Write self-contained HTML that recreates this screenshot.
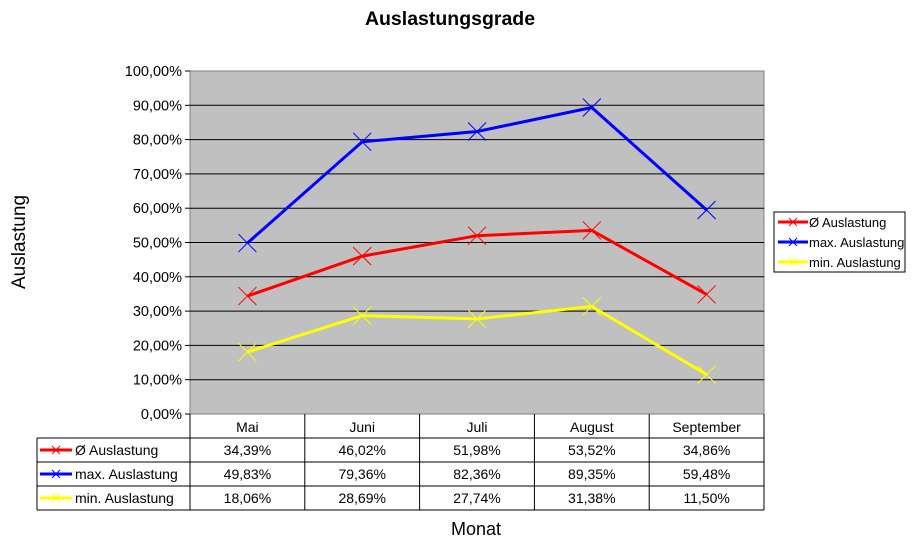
<!DOCTYPE html>
<html><head><meta charset="utf-8"><style>
body{margin:0;background:#fff;font-family:"Liberation Sans",Arial,sans-serif}
svg{display:block}
</style></head><body>
<svg width="912" height="550" viewBox="0 0 912 550" id="c">
<text x="450" y="25" text-anchor="middle" font-size="19.5" font-weight="bold">Auslastungsgrade</text>
<text x="25" y="242" text-anchor="middle" font-size="19" transform="rotate(-90 25 242)">Auslastung</text>
<text x="476" y="535" text-anchor="middle" font-size="18">Monat</text>
<rect x="190" y="71" width="574" height="343" fill="#c0c0c0" stroke="#808080"/>
<g id="grid"></g><g id="ticks"></g><g id="table"></g><g id="series"></g>
<g>
<rect x="774" y="212" width="131" height="60" fill="#fff" stroke="#000"/>
<g id="legend"></g>
</g>
</svg>
<script>
const categories=["Mai","Juni","Juli","August","September"];
const avgValues=[34.39,46.02,51.98,53.52,34.86];
const maxValues=[49.83,79.36,82.36,89.35,59.48];
const minValues=[18.06,28.69,27.74,31.38,11.50];
const yTicks=[0,10,20,30,40,50,60,70,80,90,100];
const seriesNames=["Ø Auslastung","max. Auslastung","min. Auslastung"];
const colors=["#ff0000","#0000ff","#ffff00"];
const NS="http://www.w3.org/2000/svg";
const X0=190,X1=764,Y0=414,Y1=71;
const bw=(X1-X0)/categories.length;
const xs=i=>X0+bw*(i+0.5);
const ys=v=>Y0-(v/100)*(Y0-Y1);
const fmt=v=>v.toFixed(2).replace('.',',')+'%';
function mk(t,a,p){const e=document.createElementNS(NS,t);for(const k in a)e.setAttribute(k,a[k]);p.appendChild(e);return e;}
const grid=document.getElementById('grid'),ticks=document.getElementById('ticks');
yTicks.forEach(v=>{
 const y=ys(v);
 if(v>0&&v<100){const l=mk('line',{x1:X0,x2:X1,y1:y,y2:y,stroke:'#000','stroke-width':1},grid);
 
 }
 mk('line',{x1:X0-5,x2:X0,y1:y,y2:y,stroke:'#000'},ticks);
 const t=mk('text',{x:X0-8,y:y+5,'text-anchor':'end','font-size':14.5},ticks);
 t.textContent=fmt(v);
 
 
});
const tb=document.getElementById('table');
const rowsY=[414,438,462,486,510];
mk('line',{x1:X0,x2:X0,y1:414,y2:510,stroke:'#000'},tb);
[438,462,486,510].forEach(y=>mk('line',{x1:37,x2:X1,y1:y,y2:y,stroke:'#000'},tb));
mk('line',{x1:37,x2:37,y1:438,y2:510,stroke:'#000'},tb);
categories.forEach((c,i)=>{
 mk('line',{x1:X0+bw*(i+1),x2:X0+bw*(i+1),y1:414,y2:510,stroke:'#000'},tb);
 const t=mk('text',{x:xs(i),y:432,'text-anchor':'middle','font-size':14},tb);
 t.textContent=c;
 
 
});
const all=[avgValues,maxValues,minValues];
function marker(g,x,y,col,s){mk('path',{d:`M${x-s},${y-s}L${x+s},${y+s}M${x-s},${y+s}L${x+s},${y-s}`,stroke:col,'stroke-width':1,fill:'none'},g);}
all.forEach((vals,r)=>{
 const y=rowsY[r+1]+17;
 mk('line',{x1:40,x2:72,y1:y-5,y2:y-5,stroke:colors[r],'stroke-width':3},tb);
 marker(tb,56,y-5,colors[r],4);
 const n=mk('text',{x:75,y:y,'font-size':14},tb);n.textContent=seriesNames[r];
 
 
 vals.forEach((v,i)=>{const t=mk('text',{x:xs(i),y:y,'text-anchor':'middle','font-size':14},tb);t.textContent=fmt(v);
 
 });
});
const sg=document.getElementById('series');
all.forEach((vals,r)=>{
 const g=mk('g',{},sg);
 
 
 mk('polyline',{points:vals.map((v,i)=>xs(i)+','+ys(v)).join(' '),fill:'none',stroke:colors[r],'stroke-width':3},g);
 vals.forEach((v,i)=>{marker(g,xs(i),ys(v),colors[r],9);});
});
const lg=document.getElementById('legend');
seriesNames.forEach((n,r)=>{
 const y=222+r*20;
 mk('line',{x1:778,x2:808,y1:y,y2:y,stroke:colors[r],'stroke-width':3},lg);
 marker(lg,793,y,colors[r],4);
 const t=mk('text',{x:809,y:y+5,'font-size':13},lg);t.textContent=n;
 
 
});
</script>
</body></html>
